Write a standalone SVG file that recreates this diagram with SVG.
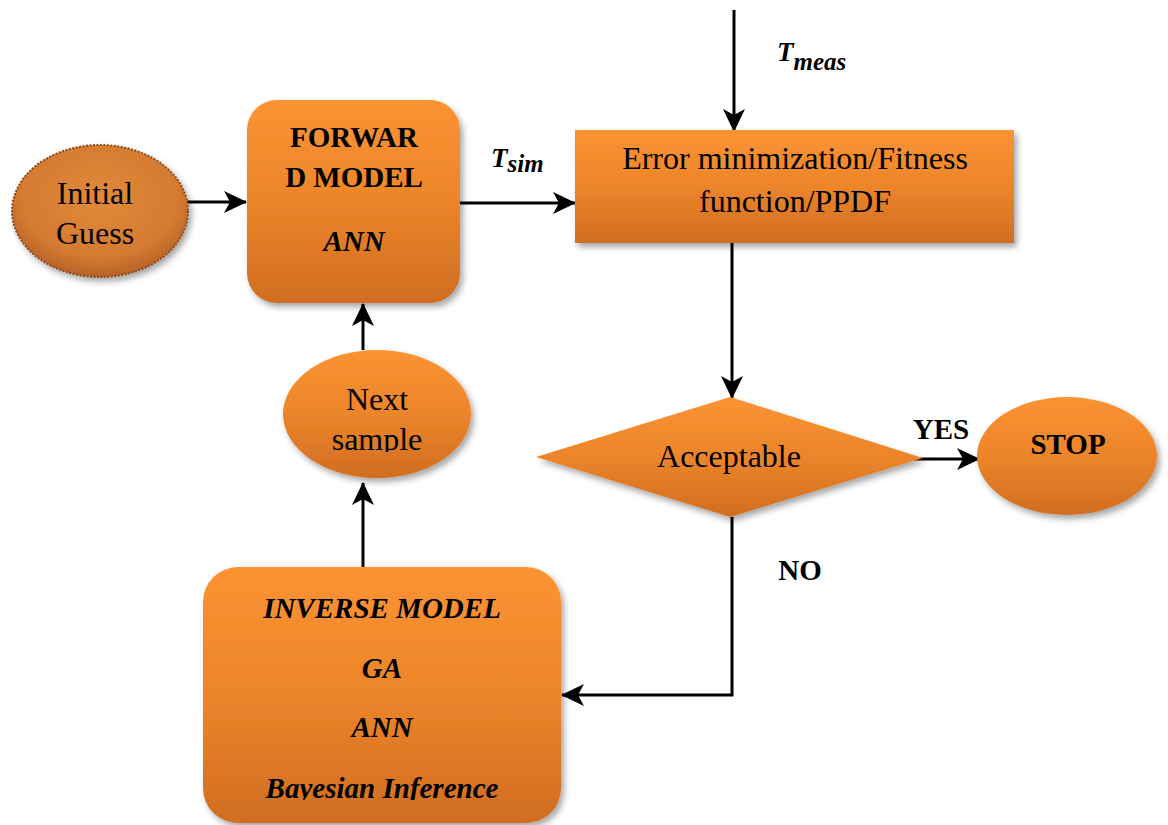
<svg xmlns="http://www.w3.org/2000/svg" width="1168" height="825" viewBox="0 0 1168 825">
  <defs>
    <linearGradient id="orange" x1="0" y1="0" x2="0" y2="1">
      <stop offset="0" stop-color="#FB9333"/>
      <stop offset="0.5" stop-color="#EC852A"/>
      <stop offset="1" stop-color="#D06D22"/>
    </linearGradient>
    <radialGradient id="guessFill" cx="0.5" cy="0.4" r="0.6">
      <stop offset="0" stop-color="#E28A3A"/>
      <stop offset="0.75" stop-color="#D47A30"/>
      <stop offset="1" stop-color="#B5622A"/>
    </radialGradient>
    <filter id="shadow" x="-20%" y="-20%" width="140%" height="140%">
      <feDropShadow dx="3" dy="4" stdDeviation="3" flood-color="#000" flood-opacity="0.35"/>
    </filter>
    <marker id="arrow" viewBox="0 0 24 24" refX="22" refY="12" markerWidth="24" markerHeight="24" markerUnits="userSpaceOnUse" orient="auto">
      <path d="M0,1 L23,12 L0,23 L6,12 z" fill="#000"/>
    </marker>
    <style>
      .box { fill: url(#orange); filter: url(#shadow); }
      .edge { fill: none; stroke: #000; stroke-width: 3; marker-end: url(#arrow); }
      .reg { font-family: "Liberation Serif", "Times New Roman", serif; font-size: 32px; fill: #000; text-anchor: middle; }
      .bold { font-family: "Liberation Serif", "Times New Roman", serif; font-weight: bold; font-size: 29px; fill: #000; text-anchor: middle; }
      .bi { font-family: "Liberation Serif", "Times New Roman", serif; font-weight: bold; font-style: italic; font-size: 29px; fill: #000; text-anchor: middle; }
      .math { font-family: "Liberation Serif", "Times New Roman", serif; font-weight: bold; font-style: italic; fill: #000; }
    </style>
    <clipPath id="invClip">
      <rect x="203" y="567" width="358" height="233"/>
    </clipPath>
    <clipPath id="nextClip">
      <rect x="283" y="350" width="189" height="102"/>
    </clipPath>
  </defs>

  <!-- connectors -->
  <g id="connectors">
    <line class="edge" x1="187" y1="202" x2="246" y2="202"/>
    <line class="edge" x1="460" y1="203" x2="575" y2="203"/>
    <line class="edge" x1="734" y1="10" x2="734" y2="131"/>
    <line class="edge" x1="732" y1="243" x2="732" y2="398"/>
    <line class="edge" x1="911" y1="459" x2="979" y2="459"/>
    <polyline class="edge" points="732,517 732,695 562,695"/>
    <line class="edge" x1="363" y1="567" x2="363" y2="483"/>
    <line class="edge" x1="363" y1="350" x2="363" y2="304"/>
    <text class="math" x="491" y="167" font-size="27">T<tspan font-size="25" dy="5">sim</tspan></text>
    <text class="math" x="777" y="61" font-size="27">T<tspan font-size="25" dy="9">meas</tspan></text>
    <text class="bold" x="941" y="439" font-size="28">YES</text>
    <text class="bold" x="800" y="580" font-size="28">NO</text>
  </g>

  <!-- start node -->
  <g id="initial-guess">
    <ellipse cx="100" cy="211" rx="88" ry="66" fill="url(#guessFill)" stroke="#8A4A1E" stroke-width="2" stroke-dasharray="2 1.5" filter="url(#shadow)"/>
    <text class="reg" x="95" y="204" font-size="31">Initial</text>
    <text class="reg" x="95" y="244" font-size="31">Guess</text>
  </g>

  <!-- forward model -->
  <g id="forward-model">
    <rect class="box" x="247" y="100" width="213" height="203" rx="30"/>
    <text class="bold" x="354" y="147">FORWAR</text>
    <text class="bold" x="354" y="187">D MODEL</text>
    <text class="bi" x="354" y="251">ANN</text>
  </g>

  <!-- objective -->
  <g id="error-minimization">
    <rect class="box" x="575" y="130" width="439" height="113"/>
    <text class="reg" x="795" y="169">Error minimization/Fitness</text>
    <text class="reg" x="795" y="212">function/PPDF</text>
  </g>

  <!-- decision -->
  <g id="acceptable">
    <polygon class="box" points="536,457 730,397 923,458 730,517"/>
    <text class="reg" x="729" y="467">Acceptable</text>
  </g>

  <!-- end node -->
  <g id="stop">
    <ellipse class="box" cx="1067" cy="456" rx="90" ry="59"/>
    <text class="bold" x="1068" y="454" font-size="32">STOP</text>
  </g>

  <!-- inverse model -->
  <g id="inverse-model">
    <rect class="box" x="203" y="567" width="358" height="256" rx="35"/>
    <g clip-path="url(#invClip)">
      <text class="bi" x="382" y="618">INVERSE MODEL</text>
      <text class="bi" x="382" y="678">GA</text>
      <text class="bi" x="382" y="737">ANN</text>
      <text class="bi" x="382" y="798">Bayesian Inference</text>
    </g>
  </g>

  <!-- next sample -->
  <g id="next-sample">
    <ellipse class="box" cx="377" cy="414" rx="94" ry="64"/>
    <g clip-path="url(#nextClip)">
      <text class="reg" x="377" y="410">Next</text>
      <text class="reg" x="377" y="450">sample</text>
    </g>
  </g>
</svg>
